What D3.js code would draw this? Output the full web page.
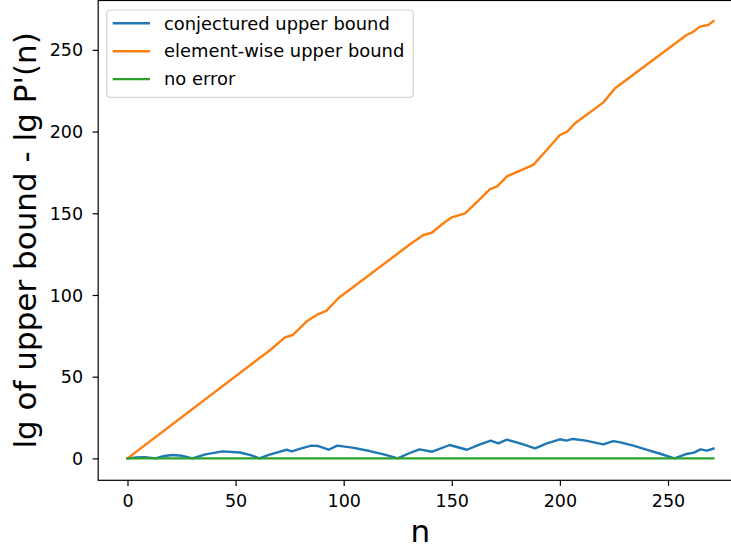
<!DOCTYPE html>
<html>
<head>
  <meta charset="utf-8">
  <script src="https://d3js.org/d3.v7.min.js"></script>
  <style>
    body { margin: 0; background: #fff; }
    text { font-family: "DejaVu Sans", sans-serif; }
  </style>
</head>
<body>
<script type="text/javascript">
  // values
  var conjN = [0, 4, 8, 13, 17, 21, 25, 30, 36, 44, 52, 57, 61, 65, 69, 73.6, 76, 80, 85, 88, 93, 97, 104, 112, 119, 125,
               130, 135, 141, 149, 157, 163, 168, 171.5, 175.5, 182, 188.5, 194, 200, 203, 206, 212, 220, 224.7, 228,
               234, 240, 246, 253, 258.6, 262, 265, 268, 271];
  var conjV = [0, 0.6, 0.8, 0, 1.5, 2.1, 1.6, 0, 2.5, 4.3, 3.6, 2.0, 0, 2.0, 3.5, 5.3, 4.3, 6.0, 7.8, 7.6, 5.3, 7.8, 6.6, 4.5, 2.3, 0,
               3.0, 5.5, 4.1, 8.2, 5.3, 8.6, 10.9, 9.2, 11.5, 9.0, 6.2, 9.2, 11.7, 10.9, 11.9, 10.9, 8.6, 10.6, 9.8,
               7.8, 5.4, 3.0, 0, 2.7, 3.5, 5.5, 4.8, 6.0];
  var elemN = [0, 66, 72.8, 76.4, 82.9, 87.5, 92.1, 97.5, 130.7, 136.8, 140.7, 146.1, 150, 156.1, 162.3, 167.7, 171, 175.5,
               187.7, 193.9, 200, 203.4, 207, 220, 225.5, 258.6, 261, 264.8, 268.6, 271];
  var elemV = [0, 66.3, 74.1, 75.5, 83.9, 87.8, 90.4, 98, 131, 136.7, 138.1, 143.9, 147.5, 150, 157.7, 164.8, 166.5, 172.6,
               179.6, 188.7, 197.9, 200, 205.1, 217.7, 226.5, 259.1, 260.5, 264.2, 265.2, 267.6];
  var noErrN = [0, 271];
  var noErrV = [0, 0];
  var xTicks = [0, 50, 100, 150, 200, 250];
  var yTicks = [0, 50, 100, 150, 200, 250];
  var seriesNames = ["conjectured upper bound", "element-wise upper bound", "no error"];
  var seriesColors = ["#1f77b4", "#ff7f0e", "#2ca02c"];

  var W = 731, H = 550;
  // plot box (the right edge falls outside the picture, as in the reference)
  var plotL = 98.2, plotR = 742.7, plotT = 0.5, plotB = 480.3;
  var tickFont = "17.5px", legendFont = "17.9px", labelFont = "31px";

  var svg = d3.select("body").append("svg").attr("width", W).attr("height", H);

  var x = d3.scaleLinear().domain([-13.55, 284.55]).range([plotL, plotR]);
  var y = d3.scaleLinear().domain([-13.4, 280.2]).range([plotB, plotT]);

  var series = [
    d3.zip(conjN, conjV),
    d3.zip(elemN, elemV),
    d3.zip(noErrN, noErrV)
  ];

  var line = d3.line().x(function (d) { return x(d[0]); }).y(function (d) { return y(d[1]); });

  svg.selectAll("path.series")
    .data(series)
    .enter()
    .append("path")
      .attr("class", "series")
      .attr("d", line)
      .attr("fill", "none")
      .attr("stroke", function (d, i) { return seriesColors[i]; })
      .attr("stroke-width", 2.4)
      .attr("stroke-linejoin", "round")
      .attr("stroke-linecap", "square");

  // axes
  var xAxis = d3.axisBottom(x).tickValues(xTicks).tickSize(5.6).tickPadding(5.6).tickSizeOuter(0);
  var yAxis = d3.axisLeft(y).tickValues(yTicks).tickSize(5.6).tickPadding(9.5).tickSizeOuter(0);

  var gx = svg.append("g").attr("transform", "translate(0," + plotB + ")").call(xAxis);
  var gy = svg.append("g").attr("transform", "translate(" + plotL + ",0)").call(yAxis);
  [gx, gy].forEach(function (g) {
    g.select(".domain").remove();
    g.selectAll(".tick line").attr("stroke", "#000").attr("stroke-width", 1.2);
    g.selectAll(".tick text").attr("fill", "#000").style("font-size", tickFont).style("font-family", "DejaVu Sans");
  });
  gx.selectAll(".tick text").attr("dy", null).attr("y", 27);
  gy.selectAll(".tick text").attr("dy", "0.35em");

  // spines
  svg.append("rect")
    .attr("x", plotL).attr("y", plotT)
    .attr("width", plotR - plotL).attr("height", plotB - plotT)
    .attr("fill", "none").attr("stroke", "#000").attr("stroke-width", 1.2);

  // axis labels
  svg.append("text")
    .attr("x", (plotL + plotR) / 2)
    .attr("y", 542)
    .attr("text-anchor", "middle")
    .style("font-size", labelFont)
    .text("n");
  svg.append("text")
    .attr("transform", "translate(36," + ((plotT + plotB) / 2) + ") rotate(-90)")
    .attr("text-anchor", "middle")
    .style("font-size", labelFont)
    .text("lg of upper bound - lg P'(n)");

  // legend
  var lg = svg.append("g");
  lg.append("rect")
    .attr("x", 106.7).attr("y", 10)
    .attr("width", 306.6).attr("height", 87.3)
    .attr("rx", 3.5)
    .attr("fill", "#fff").attr("fill-opacity", 0.8)
    .attr("stroke", "#d6d6d6").attr("stroke-width", 1.2);
  seriesNames.forEach(function (name, i) {
    var ly = 23.3 + i * 27.9;
    lg.append("line")
      .attr("x1", 112.7).attr("x2", 150)
      .attr("y1", ly).attr("y2", ly)
      .attr("stroke", seriesColors[i]).attr("stroke-width", 2.4);
    lg.append("text")
      .attr("x", 164).attr("y", ly)
      .attr("dy", "0.35em")
      .style("font-size", legendFont)
      .attr("fill", "#000")
      .text(name);
  });
</script>
</body>
</html>
